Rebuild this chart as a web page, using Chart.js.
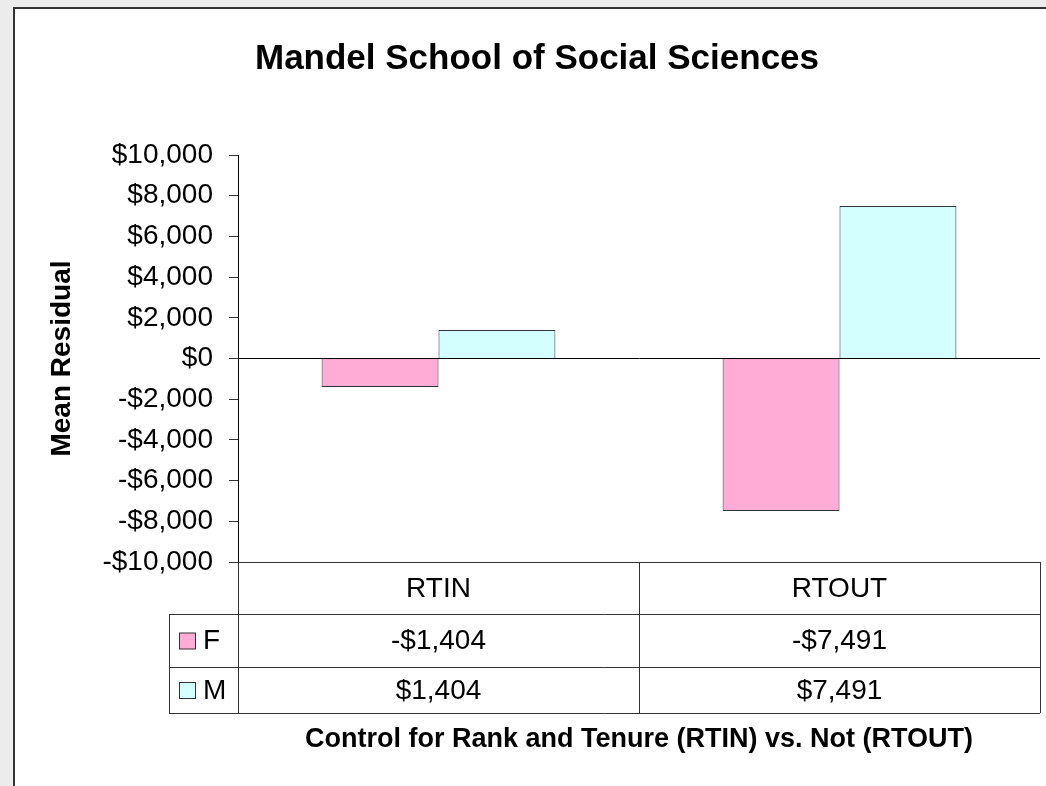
<!DOCTYPE html>
<html>
<head>
<meta charset="utf-8">
<script src="https://cdn.jsdelivr.net/npm/chart.js@4"></script>
<style>
  html, body { margin: 0; padding: 0; background: #ececec; }
  #wrap { width: 1046px; height: 786px; position: relative; }
</style>
</head>
<body>
<div id="wrap"><canvas id="myChart"></canvas></div>
<script>
const categories = ['RTIN', 'RTOUT'];
const seriesNames = ['F', 'M'];
const femaleValues = [-1404, -7491];
const maleValues = [1404, 7491];
const yMin = -10000;
const yMax = 10000;
const yStep = 2000;

const FONT = '"Liberation Sans", Arial, sans-serif';

function money(v) {
  const s = '$' + Math.abs(v).toLocaleString('en-US');
  return v < 0 ? '-' + s : s;
}

// grey page + white chart panel with a dark edge
const panelBg = {
  id: 'panelBg',
  beforeDraw(chart) {
    const c = chart.ctx;
    c.save();
    c.fillStyle = '#ececec';
    c.fillRect(0, 0, chart.width, chart.height);
    c.fillStyle = '#ffffff';
    c.fillRect(14, 8, chart.width - 14, chart.height - 8);
    c.fillStyle = '#333333';
    c.fillRect(13, 7, 2, chart.height - 7);
    c.fillRect(13, 7, chart.width - 13, 2);
    c.restore();
  }
};

// excel style data table under the plot
const dataTable = {
  id: 'dataTable',
  afterDraw(chart) {
    const c = chart.ctx;
    const area = chart.chartArea;
    const x = chart.scales.x;
    const rowH = [52, 53, 46];
    const legendLeft = 169;
    const top = area.bottom;
    const r1 = top + rowH[0];
    const r2 = r1 + rowH[1];
    const r3 = r2 + rowH[2];
    const mid = (x.getPixelForValue(0) + x.getPixelForValue(1)) / 2;

    c.save();
    c.strokeStyle = '#333333';
    c.lineWidth = 1;
    c.beginPath();
    // horizontals
    c.moveTo(area.left, top + 0.5); c.lineTo(area.right, top + 0.5);
    c.moveTo(legendLeft, r1 + 0.5); c.lineTo(area.right, r1 + 0.5);
    c.moveTo(legendLeft, r2 + 0.5); c.lineTo(area.right, r2 + 0.5);
    c.moveTo(legendLeft, r3 + 0.5); c.lineTo(area.right, r3 + 0.5);
    // verticals
    c.moveTo(legendLeft + 0.5, r1); c.lineTo(legendLeft + 0.5, r3);
    c.moveTo(area.left + 0.5, top); c.lineTo(area.left + 0.5, r3);
    c.moveTo(Math.round(mid) + 0.5, top); c.lineTo(Math.round(mid) + 0.5, r3);
    c.moveTo(area.right + 0.5, top); c.lineTo(area.right + 0.5, r3);
    c.stroke();

    c.fillStyle = '#000';
    c.font = '28px ' + FONT;
    c.textBaseline = 'middle';
    c.textAlign = 'center';
    categories.forEach((cat, i) => {
      c.fillText(cat, x.getPixelForValue(i), (top + r1) / 2 + 1);
    });
    const rows = [[r1, r2], [r2, r3]];
    chart.data.datasets.forEach((ds, k) => {
      const cy = (rows[k][0] + rows[k][1]) / 2 + 1;
      c.textAlign = 'center';
      ds.data.forEach((v, i) => {
        c.fillText(money(v), x.getPixelForValue(i), cy);
      });
      // legend key
      c.fillStyle = ds.backgroundColor;
      c.fillRect(179.5, cy - 8.5, 16, 16);
      c.strokeStyle = '#333';
      c.strokeRect(179.5, cy - 8.5, 16, 16);
      c.fillStyle = '#000';
      c.textAlign = 'left';
      c.fillText(ds.label, 203, cy);
    });
    c.restore();
  }
};

const ctx = document.getElementById('myChart').getContext('2d');

new Chart(ctx, {
  type: 'bar',
  data: {
    labels: categories,
    datasets: [
      {
        label: seriesNames[0],
        data: femaleValues,
        backgroundColor: '#ffadd6',
        borderColor: '#333333',
        borderWidth: 1
      },
      {
        label: seriesNames[1],
        data: maleValues,
        backgroundColor: '#d4ffff',
        borderColor: '#333333',
        borderWidth: 1
      }
    ]
  },
  options: {
    responsive: true,
    maintainAspectRatio: false,
    animation: false,
    datasets: {
      bar: { categoryPercentage: 0.583, barPercentage: 1.0 }
    },
    layout: { padding: { left: 34, right: 6, top: 0, bottom: 0 } },
    plugins: {
      legend: { display: false },
      tooltip: { enabled: false },
      title: {
        display: true,
        text: 'Mandel School of Social Sciences',
        color: '#000',
        font: { family: FONT, size: 35, weight: 'bold', lineHeight: 1.2 },
        padding: { top: 38, bottom: 75 }
      }
    },
    scales: {
      x: {
        ticks: { display: false },
        grid: { display: false, drawTicks: false },
        border: { display: false },
        title: {
          display: true,
          text: 'Control for Rank and Tenure (RTIN) vs. Not (RTOUT)',
          color: '#000',
          font: { family: FONT, size: 27, weight: 'bold', lineHeight: 1.2 },
          padding: { top: 0, bottom: 30 }
        },
        afterFit(scale) { scale.height = 224; }
      },
      y: {
        min: yMin,
        max: yMax,
        ticks: {
          stepSize: yStep,
          color: '#000',
          padding: 16,
          font: { family: FONT, size: 28 },
          callback: v => money(v)
        },
        grid: {
          drawOnChartArea: true,
          color: c => (c.tick && c.tick.value === 0 ? '#000' : 'rgba(0,0,0,0)'),
          tickColor: '#333',
          tickLength: 9,
          lineWidth: 1
        },
        border: { display: true, color: '#000', width: 1 },
        title: {
          display: true,
          text: 'Mean Residual',
          color: '#000',
          font: { family: FONT, size: 28, weight: 'bold', lineHeight: 1.2 },
          padding: { top: 11, bottom: 0 }
        },
        afterFit(scale) { scale.width = 204; }
      }
    }
  },
  plugins: [panelBg, dataTable]
});
</script>
</body>
</html>
